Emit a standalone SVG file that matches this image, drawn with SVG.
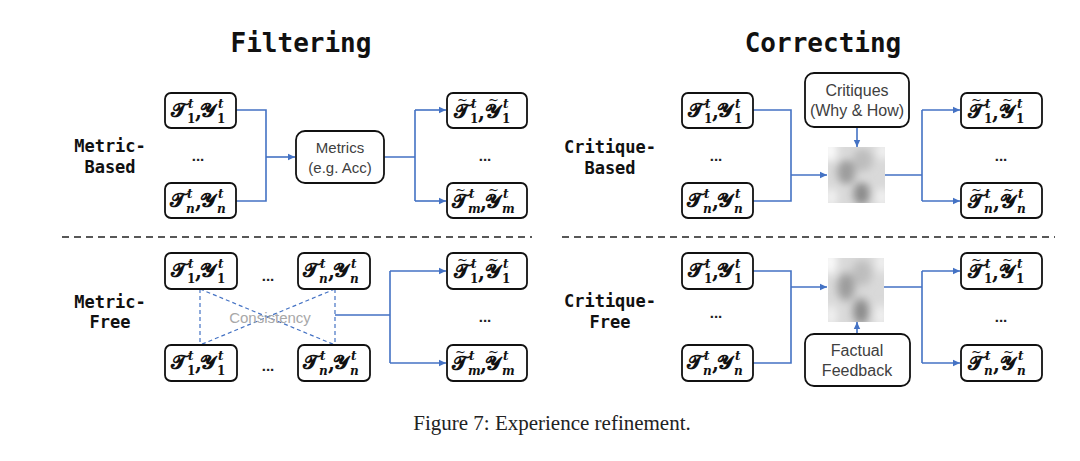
<svg xmlns="http://www.w3.org/2000/svg" xmlns:xlink="http://www.w3.org/1999/xlink" width="1080" height="461" viewBox="0 0 1080 461">
<style>
.title{font-family:"DejaVu Sans Mono","Liberation Mono",monospace;font-weight:bold;font-size:26px;fill:#111;text-anchor:middle}
.row{font-family:"DejaVu Sans Mono","Liberation Mono",monospace;font-weight:bold;font-size:17px;fill:#111;text-anchor:middle}
.box{fill:#fff;stroke:#111;stroke-width:1.8}
.f{font-family:"DejaVu Serif","Liberation Serif",serif;font-weight:bold;font-size:20px;fill:#111}
.s{font-size:12px}
.i{font-style:italic}
.tl{font-size:13px;font-weight:normal}
.lbl{font-family:"Liberation Sans","Noto Sans",sans-serif;font-size:15px;fill:#404040;text-anchor:middle}
.lb2{font-size:16px}
.dots{font-family:"Liberation Sans",sans-serif;font-size:15px;font-weight:bold;fill:#222;text-anchor:middle}
.conn{fill:none;stroke:#4472c4;stroke-width:1.6}
.dash{fill:none;stroke:#4472c4;stroke-width:1.2;stroke-dasharray:4 3}
.sep{fill:none;stroke:#222;stroke-width:1.6;stroke-dasharray:7 5}
.cap{font-family:"Liberation Serif",serif;font-size:21px;fill:#222;text-anchor:middle}
</style>
<defs>
<marker id="ah" markerUnits="userSpaceOnUse" markerWidth="8" markerHeight="8" refX="7" refY="4" orient="auto">
<path d="M0,0.8 L7,4 L0,7.2 z" fill="#4472c4"/>
</marker>
<filter id="bl" x="-50%" y="-50%" width="200%" height="200%"><feGaussianBlur stdDeviation="4"/></filter>
<symbol id="blob" viewBox="0 0 56 60" preserveAspectRatio="none">
<rect width="56" height="60" fill="#d9d9d9"/>
<g filter="url(#bl)">
<ellipse cx="2" cy="4" rx="7" ry="12" fill="#fbfbfb"/>
<ellipse cx="54" cy="4" rx="6" ry="10" fill="#f2f2f2"/>
<ellipse cx="18" cy="27" rx="9" ry="13" fill="#9c9c9c"/>
<ellipse cx="34" cy="14" rx="10" ry="12" fill="#bdbdbd"/>
<ellipse cx="33" cy="50" rx="8" ry="12" fill="#8a8a8a"/>
<ellipse cx="3" cy="54" rx="6" ry="10" fill="#f2f2f2"/>
<ellipse cx="53" cy="54" rx="6" ry="10" fill="#f2f2f2"/>
</g>
</symbol>
</defs>
<rect width="1080" height="461" fill="#fff"/>

<text class="title" x="301" y="52">Filtering</text>
<text class="title" x="823" y="52">Correcting</text>

<g id="label-metric-based"><text class="row" x="110" y="152">Metric-</text><text class="row" x="110" y="173">Based</text></g>
<g id="label-metric-free"><text class="row" x="110" y="308">Metric-</text><text class="row" x="110" y="328">Free</text></g>
<g id="label-critique-based"><text class="row" x="610" y="153">Critique-</text><text class="row" x="610" y="174">Based</text></g>
<g id="label-critique-free"><text class="row" x="610" y="307">Critique-</text><text class="row" x="610" y="328">Free</text></g>

<g id="separators">
<line class="sep" x1="62" y1="237" x2="532" y2="237"/>
<line class="sep" x1="562" y1="237" x2="1055" y2="237"/>
</g>

<g id="connectors">
<path class="conn" d="M236,110 H266 V201 H236"/>
<path class="conn" d="M266,157 H295" marker-end="url(#ah)"/>
<path class="conn" d="M384,157 H415 M415,110 V201"/>
<path class="conn" d="M415,110 H446" marker-end="url(#ah)"/>
<path class="conn" d="M415,201 H446" marker-end="url(#ah)"/>
<path class="dash" d="M200,289 V345 M335,289 V345 M200,289 L335,345 M335,289 L200,345"/>
<path class="conn" d="M335,315 H390 M390,271 V363"/>
<path class="conn" d="M390,271 H446" marker-end="url(#ah)"/>
<path class="conn" d="M390,363 H446" marker-end="url(#ah)"/>
<path class="conn" d="M753,110 H791 V201 H753"/>
<path class="conn" d="M791,175 H827" marker-end="url(#ah)"/>
<path class="conn" d="M857,127 V147" marker-end="url(#ah)"/>
<path class="conn" d="M885,175 H922 M922,110 V201"/>
<path class="conn" d="M922,110 H960" marker-end="url(#ah)"/>
<path class="conn" d="M922,201 H960" marker-end="url(#ah)"/>
<path class="conn" d="M753,271 H791 V363 H753"/>
<path class="conn" d="M791,287 H827" marker-end="url(#ah)"/>
<path class="conn" d="M857,334 V322" marker-end="url(#ah)"/>
<path class="conn" d="M884,287 H922 M922,271 V363"/>
<path class="conn" d="M922,271 H960" marker-end="url(#ah)"/>
<path class="conn" d="M922,363 H960" marker-end="url(#ah)"/>
</g>

<text class="lbl" x="270" y="323" style="fill:#a8a8a8">Consistency</text>

<!-- Filtering / Metric-Based -->
<g id="fb-in1" transform="translate(165,93)"><rect class="box" width="71" height="35" rx="6"/>
<text class="f"><tspan x="6" y="24">𝓣</tspan><tspan class="s i" x="23" y="15">t</tspan><tspan class="s" x="22" y="30">1</tspan><tspan x="30" y="25">,</tspan><tspan x="35" y="24">𝓨</tspan><tspan class="s i" x="53" y="15">t</tspan><tspan class="s" x="52" y="30">1</tspan></text></g>
<text class="dots" x="198" y="161">...</text>
<g id="fb-inn" transform="translate(165,183)"><rect class="box" width="71" height="35" rx="6"/>
<text class="f"><tspan x="5" y="24">𝓣</tspan><tspan class="s i" x="22" y="15">t</tspan><tspan class="s i" x="21" y="30">n</tspan><tspan x="30" y="25">,</tspan><tspan x="35" y="24">𝓨</tspan><tspan class="s i" x="53" y="15">t</tspan><tspan class="s i" x="52" y="30">n</tspan></text></g>
<g id="fb-metrics" transform="translate(296,131)"><rect class="box" width="88" height="52" rx="9"/>
<text class="lbl" x="44" y="22">Metrics</text><text class="lbl" x="44" y="42">(e.g. Acc)</text></g>
<g id="fb-out1" transform="translate(447,93)"><rect class="box" width="80" height="35" rx="6"/>
<text class="f"><tspan class="tl" x="10" y="11">~</tspan><tspan x="7" y="25">𝓣</tspan><tspan class="s i" x="24" y="15">t</tspan><tspan class="s" x="23" y="30">1</tspan><tspan x="31" y="26">,</tspan><tspan class="tl" x="41" y="11">~</tspan><tspan x="38" y="25">𝓨</tspan><tspan class="s i" x="56" y="15">t</tspan><tspan class="s" x="55" y="30">1</tspan></text></g>
<text class="dots" x="485" y="161">...</text>
<g id="fb-outm" transform="translate(447,183)"><rect class="box" width="80" height="35" rx="6"/>
<text class="f"><tspan class="tl" x="8" y="11">~</tspan><tspan x="5" y="25">𝓣</tspan><tspan class="s i" x="22" y="15">t</tspan><tspan class="s i" x="21" y="30">m</tspan><tspan x="33" y="26">,</tspan><tspan class="tl" x="41" y="11">~</tspan><tspan x="38" y="25">𝓨</tspan><tspan class="s i" x="56" y="15">t</tspan><tspan class="s i" x="55" y="30">m</tspan></text></g>

<!-- Filtering / Metric-Free -->
<g id="ff-a1" transform="translate(165,253)"><rect class="box" width="72" height="36" rx="6"/>
<text class="f"><tspan x="6" y="24">𝓣</tspan><tspan class="s i" x="23" y="15">t</tspan><tspan class="s" x="22" y="30">1</tspan><tspan x="30" y="25">,</tspan><tspan x="35" y="24">𝓨</tspan><tspan class="s i" x="53" y="15">t</tspan><tspan class="s" x="52" y="30">1</tspan></text></g>
<text class="dots" x="268" y="281">...</text>
<g id="ff-an" transform="translate(298,253)"><rect class="box" width="72" height="36" rx="6"/>
<text class="f"><tspan x="5" y="24">𝓣</tspan><tspan class="s i" x="22" y="15">t</tspan><tspan class="s i" x="21" y="30">n</tspan><tspan x="30" y="25">,</tspan><tspan x="35" y="24">𝓨</tspan><tspan class="s i" x="53" y="15">t</tspan><tspan class="s i" x="52" y="30">n</tspan></text></g>
<g id="ff-b1" transform="translate(165,345)"><rect class="box" width="72" height="36" rx="6"/>
<text class="f"><tspan x="6" y="24">𝓣</tspan><tspan class="s i" x="23" y="15">t</tspan><tspan class="s" x="22" y="30">1</tspan><tspan x="30" y="25">,</tspan><tspan x="35" y="24">𝓨</tspan><tspan class="s i" x="53" y="15">t</tspan><tspan class="s" x="52" y="30">1</tspan></text></g>
<text class="dots" x="268" y="371">...</text>
<g id="ff-bn" transform="translate(298,345)"><rect class="box" width="72" height="36" rx="6"/>
<text class="f"><tspan x="5" y="24">𝓣</tspan><tspan class="s i" x="22" y="15">t</tspan><tspan class="s i" x="21" y="30">n</tspan><tspan x="30" y="25">,</tspan><tspan x="35" y="24">𝓨</tspan><tspan class="s i" x="53" y="15">t</tspan><tspan class="s i" x="52" y="30">n</tspan></text></g>
<g id="ff-out1" transform="translate(447,253)"><rect class="box" width="80" height="36" rx="6"/>
<text class="f"><tspan class="tl" x="10" y="11">~</tspan><tspan x="7" y="25">𝓣</tspan><tspan class="s i" x="24" y="15">t</tspan><tspan class="s" x="23" y="30">1</tspan><tspan x="31" y="26">,</tspan><tspan class="tl" x="41" y="11">~</tspan><tspan x="38" y="25">𝓨</tspan><tspan class="s i" x="56" y="15">t</tspan><tspan class="s" x="55" y="30">1</tspan></text></g>
<text class="dots" x="485" y="322">...</text>
<g id="ff-outm" transform="translate(447,345)"><rect class="box" width="80" height="36" rx="6"/>
<text class="f"><tspan class="tl" x="8" y="11">~</tspan><tspan x="5" y="25">𝓣</tspan><tspan class="s i" x="22" y="15">t</tspan><tspan class="s i" x="21" y="30">m</tspan><tspan x="33" y="26">,</tspan><tspan class="tl" x="41" y="11">~</tspan><tspan x="38" y="25">𝓨</tspan><tspan class="s i" x="56" y="15">t</tspan><tspan class="s i" x="55" y="30">m</tspan></text></g>

<!-- Correcting / Critique-Based -->
<g id="cb-in1" transform="translate(682,93)"><rect class="box" width="71" height="35" rx="6"/>
<text class="f"><tspan x="6" y="24">𝓣</tspan><tspan class="s i" x="23" y="15">t</tspan><tspan class="s" x="22" y="30">1</tspan><tspan x="30" y="25">,</tspan><tspan x="35" y="24">𝓨</tspan><tspan class="s i" x="53" y="15">t</tspan><tspan class="s" x="52" y="30">1</tspan></text></g>
<text class="dots" x="716" y="161">...</text>
<g id="cb-inn" transform="translate(682,183)"><rect class="box" width="71" height="35" rx="6"/>
<text class="f"><tspan x="5" y="24">𝓣</tspan><tspan class="s i" x="22" y="15">t</tspan><tspan class="s i" x="21" y="30">n</tspan><tspan x="30" y="25">,</tspan><tspan x="35" y="24">𝓨</tspan><tspan class="s i" x="53" y="15">t</tspan><tspan class="s i" x="52" y="30">n</tspan></text></g>
<g id="cb-critiques" transform="translate(805,73)"><rect class="box" width="104" height="54" rx="9"/>
<text class="lbl lb2" x="52" y="23">Critiques</text><text class="lbl lb2" x="52" y="43">(Why &amp; How)</text></g>
<g id="cb-model"><use xlink:href="#blob" href="#blob" x="828" y="147" width="57" height="56"/></g>
<g id="cb-out1" transform="translate(961,93)"><rect class="box" width="81" height="35" rx="6"/>
<text class="f"><tspan class="tl" x="10" y="11">~</tspan><tspan x="7" y="25">𝓣</tspan><tspan class="s i" x="24" y="15">t</tspan><tspan class="s" x="23" y="30">1</tspan><tspan x="31" y="26">,</tspan><tspan class="tl" x="41" y="11">~</tspan><tspan x="38" y="25">𝓨</tspan><tspan class="s i" x="56" y="15">t</tspan><tspan class="s" x="55" y="30">1</tspan></text></g>
<text class="dots" x="1001" y="161">...</text>
<g id="cb-outn" transform="translate(961,183)"><rect class="box" width="81" height="35" rx="6"/>
<text class="f"><tspan class="tl" x="10" y="11">~</tspan><tspan x="7" y="25">𝓣</tspan><tspan class="s i" x="24" y="15">t</tspan><tspan class="s i" x="23" y="30">n</tspan><tspan x="32" y="26">,</tspan><tspan class="tl" x="42" y="11">~</tspan><tspan x="39" y="25">𝓨</tspan><tspan class="s i" x="57" y="15">t</tspan><tspan class="s i" x="56" y="30">n</tspan></text></g>

<!-- Correcting / Critique-Free -->
<g id="cf-in1" transform="translate(682,253)"><rect class="box" width="71" height="36" rx="6"/>
<text class="f"><tspan x="6" y="24">𝓣</tspan><tspan class="s i" x="23" y="15">t</tspan><tspan class="s" x="22" y="30">1</tspan><tspan x="30" y="25">,</tspan><tspan x="35" y="24">𝓨</tspan><tspan class="s i" x="53" y="15">t</tspan><tspan class="s" x="52" y="30">1</tspan></text></g>
<text class="dots" x="716" y="318">...</text>
<g id="cf-inn" transform="translate(682,345)"><rect class="box" width="71" height="36" rx="6"/>
<text class="f"><tspan x="5" y="24">𝓣</tspan><tspan class="s i" x="22" y="15">t</tspan><tspan class="s i" x="21" y="30">n</tspan><tspan x="30" y="25">,</tspan><tspan x="35" y="24">𝓨</tspan><tspan class="s i" x="53" y="15">t</tspan><tspan class="s i" x="52" y="30">n</tspan></text></g>
<g id="cf-model"><use xlink:href="#blob" href="#blob" x="828" y="258" width="56" height="64"/></g>
<g id="cf-feedback" transform="translate(805,334)"><rect class="box" width="105" height="52" rx="9"/>
<text class="lbl lb2" x="52" y="22">Factual</text><text class="lbl lb2" x="52" y="42">Feedback</text></g>
<g id="cf-out1" transform="translate(961,253)"><rect class="box" width="81" height="36" rx="6"/>
<text class="f"><tspan class="tl" x="10" y="11">~</tspan><tspan x="7" y="25">𝓣</tspan><tspan class="s i" x="24" y="15">t</tspan><tspan class="s" x="23" y="30">1</tspan><tspan x="31" y="26">,</tspan><tspan class="tl" x="41" y="11">~</tspan><tspan x="38" y="25">𝓨</tspan><tspan class="s i" x="56" y="15">t</tspan><tspan class="s" x="55" y="30">1</tspan></text></g>
<text class="dots" x="1001" y="322">...</text>
<g id="cf-outn" transform="translate(961,345)"><rect class="box" width="81" height="36" rx="6"/>
<text class="f"><tspan class="tl" x="10" y="11">~</tspan><tspan x="7" y="25">𝓣</tspan><tspan class="s i" x="24" y="15">t</tspan><tspan class="s i" x="23" y="30">n</tspan><tspan x="32" y="26">,</tspan><tspan class="tl" x="42" y="11">~</tspan><tspan x="39" y="25">𝓨</tspan><tspan class="s i" x="57" y="15">t</tspan><tspan class="s i" x="56" y="30">n</tspan></text></g>

<text class="cap" x="552" y="430">Figure 7: Experience refinement.</text>
</svg>
